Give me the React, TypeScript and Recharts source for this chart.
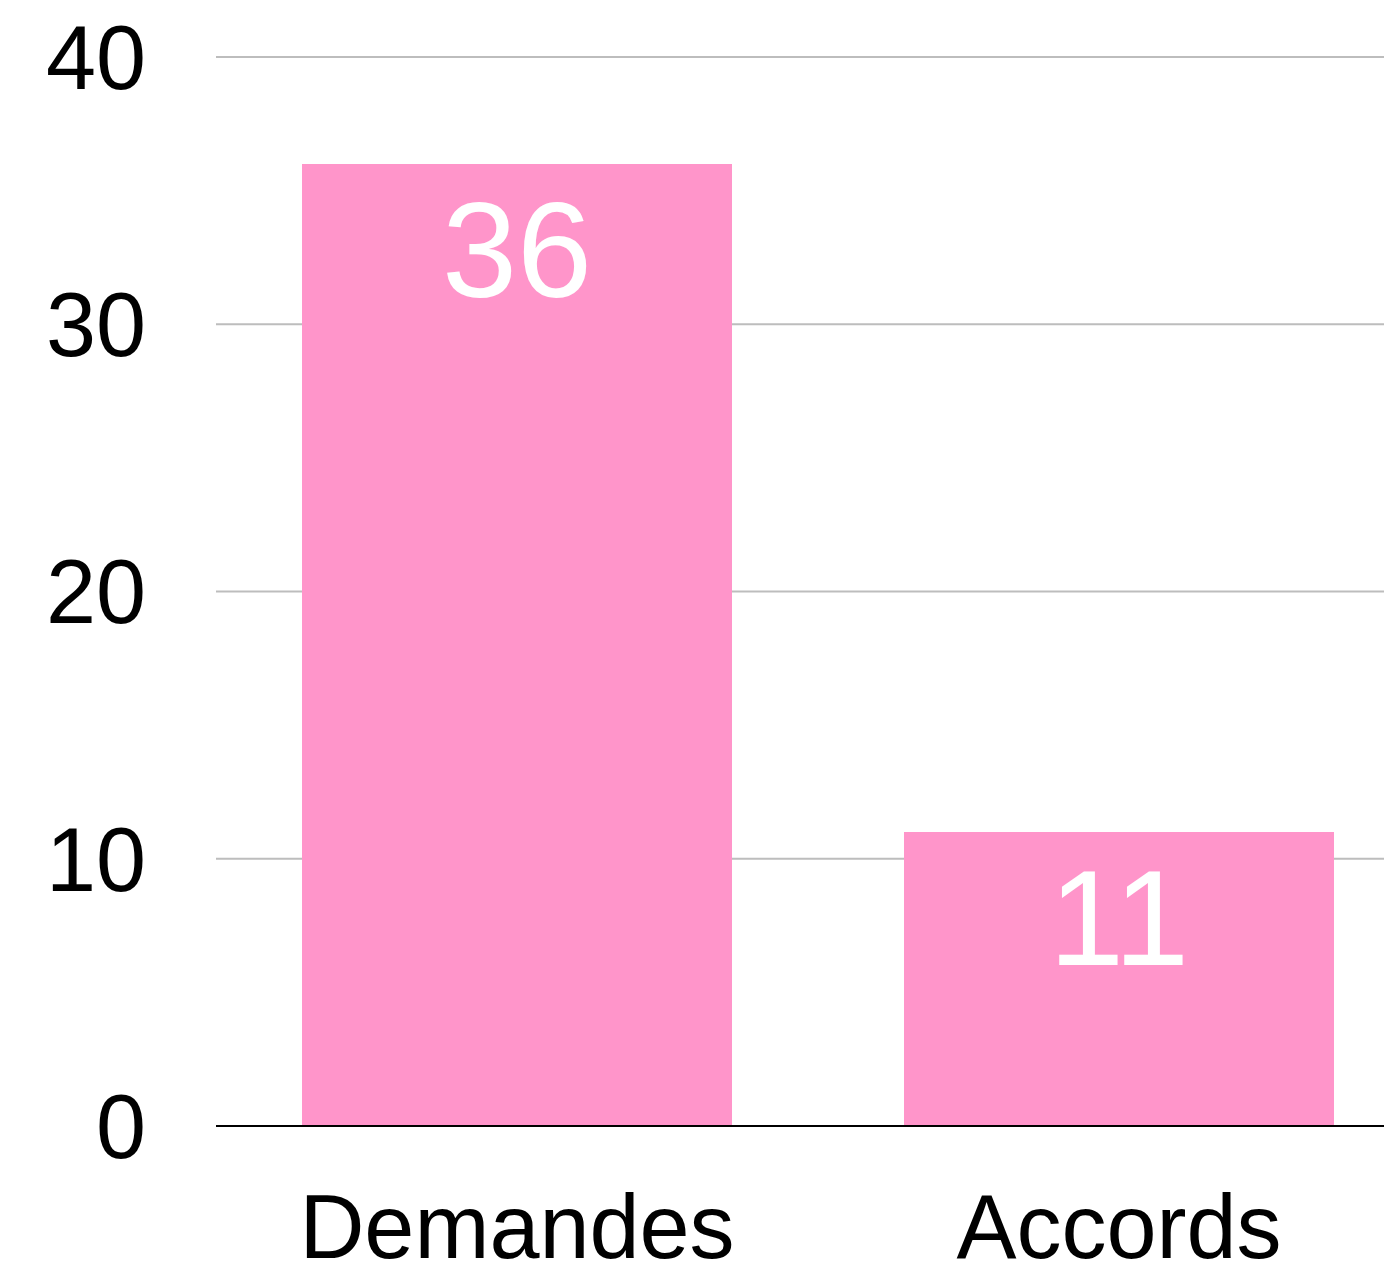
import React from "react";
import { BarChart, Bar, XAxis, YAxis, CartesianGrid, LabelList } from "recharts";

// categories and values
const categories = ["Demandes", "Accords"];
const counts = [36, 11];
const yTicks = [0, 10, 20, 30, 40];

const data = categories.map((name, i) => ({ name, value: counts[i] }));

const FONT = '"Liberation Sans", Helvetica, Arial, sans-serif';

export default function App() {
  return (
    // wrapper pinned to the page corner; chart is a bit wider than the frame so the right edge is cut off
    <div
      style={{
        position: "absolute",
        left: 0,
        top: 0,
        width: 1384,
        height: 1266,
        overflow: "hidden",
        background: "#fff",
      }}
    >
      <BarChart
        width={1420}
        height={1266}
        data={data}
        margin={{ top: 57, right: 0, left: 0, bottom: 0 }}
        style={{ fontFamily: FONT }}
      >
        <CartesianGrid vertical={false} stroke="#BDBDBD" strokeWidth={2} />
        <XAxis
          dataKey="name"
          height={140}
          axisLine={{ stroke: "#000", strokeWidth: 2 }}
          tickLine={false}
          tickSize={0}
          tickMargin={68}
          tick={{ fontSize: 90, fill: "#000", fontFamily: FONT }}
        />
        <YAxis
          width={216}
          domain={[0, 40]}
          ticks={yTicks}
          axisLine={false}
          tickLine={false}
          tickSize={0}
          tickMargin={70}
          tick={{ fontSize: 90, fill: "#000", fontFamily: FONT }}
        />
        <Bar dataKey="value" fill="#FF95CA" barSize={430} isAnimationActive={false}>
          <LabelList
            dataKey="value"
            position="insideTop"
            offset={37}
            fill="#fff"
            style={{ fontSize: 135, fontFamily: FONT }}
          />
        </Bar>
      </BarChart>
    </div>
  );
}
